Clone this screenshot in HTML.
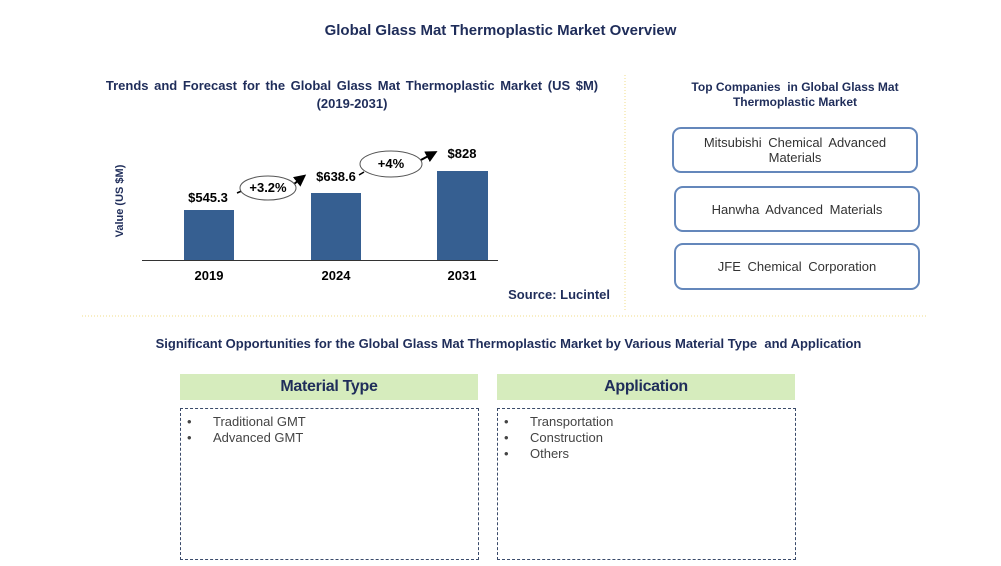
<!DOCTYPE html>
<html><head><meta charset="utf-8"><style>
body{margin:0;width:1001px;height:566px;background:#fff;position:relative;overflow:hidden;font-family:"Liberation Sans",Arial,sans-serif}
div{position:absolute}
.t{color:#1f2d5a;font-weight:bold;text-align:center}
.bar{background:#365f91}
.lbl{font-size:13px;font-weight:bold;color:#000;text-align:center;width:80px}
.cb{border:2.5px solid #6487bb;border-radius:9px;box-sizing:border-box;display:flex;align-items:center;justify-content:center;text-align:center;font-size:13px;color:#333;line-height:15px;word-spacing:3px}
.gh{background:#d6ecbd;height:26px;line-height:26px;text-align:center;font-size:16px;font-weight:bold;color:#1f2d5a;letter-spacing:-0.3px}
.bx{border:1px dashed #3a4a6a;box-sizing:border-box;font-size:13px;color:#444;padding:5px 0 0 6px;line-height:16px}
.bx p{margin:0}.bx span{display:inline-block;width:26px}
</style></head><body>
<div class="t" style="left:0;width:1001px;top:22px;font-size:15px">Global Glass Mat Thermoplastic Market Overview</div>
<div class="t" style="left:82px;width:540px;top:77px;font-size:13px;line-height:18px;word-spacing:2px">Trends and Forecast for the Global Glass Mat Thermoplastic Market (US $M)<br>(2019-2031)</div>
<div class="t" style="left:80px;top:195px;width:80px;font-size:11px;transform:rotate(-90deg);transform-origin:center;white-space:nowrap">Value (US $M)</div>
<div style="left:142px;top:260px;width:356px;height:1px;background:#333"></div>
<div class="bar" style="left:184px;top:210px;width:50px;height:50px"></div>
<div class="bar" style="left:311px;top:193px;width:50px;height:67px"></div>
<div class="bar" style="left:437px;top:171px;width:51px;height:89px"></div>
<div class="lbl" style="left:168px;top:190px">$545.3</div>
<div class="lbl" style="left:296px;top:169px">$638.6</div>
<div class="lbl" style="left:422px;top:146px">$828</div>
<div class="lbl" style="left:169px;top:268px">2019</div>
<div class="lbl" style="left:296px;top:268px">2024</div>
<div class="lbl" style="left:422px;top:268px">2031</div>
<svg style="position:absolute;left:0;top:0" width="1001" height="566">
<defs><marker id="a" markerWidth="6" markerHeight="6" refX="4" refY="3" orient="auto"><path d="M0,0L6,3L0,6z" fill="#000"/></marker></defs>
<path d="M237,193 L244,190" stroke="#000" stroke-width="1.5"/>
<path d="M294,184 L303,177" stroke="#000" stroke-width="2" marker-end="url(#a)"/>
<ellipse cx="268" cy="188" rx="28" ry="12" fill="#fff" stroke="#555"/>
<path d="M359,175 L364,172" stroke="#000" stroke-width="1.5"/>
<path d="M419,161 L434,153" stroke="#000" stroke-width="2" marker-end="url(#a)"/>
<ellipse cx="391" cy="164" rx="31" ry="13" fill="#fff" stroke="#555"/>
<line x1="625" y1="75" x2="625" y2="312" stroke="#f0dc8a" stroke-dasharray="1,2"/>
<line x1="82" y1="316" x2="926" y2="316" stroke="#f0dc8a" stroke-dasharray="1,2"/>
</svg>
<div class="t" style="left:238px;top:180px;width:60px;font-size:13px;color:#000">+3.2%</div>
<div class="t" style="left:361px;top:156px;width:60px;font-size:13px;color:#000">+4%</div>
<div class="t" style="left:470px;top:287px;width:140px;text-align:right;font-size:13px">Source: Lucintel</div>
<div class="t" style="left:670px;top:80px;width:250px;font-size:12px;line-height:15px">Top Companies &nbsp;in Global Glass Mat<br>Thermoplastic Market</div>
<div class="cb" style="left:672px;top:127px;width:246px;height:46px">Mitsubishi Chemical Advanced<br>Materials</div>
<div class="cb" style="left:674px;top:186px;width:246px;height:46px">Hanwha Advanced Materials</div>
<div class="cb" style="left:674px;top:243px;width:246px;height:47px">JFE Chemical Corporation</div>
<div class="t" style="left:0;width:1017px;top:336px;font-size:13px">Significant Opportunities for the Global Glass Mat Thermoplastic Market by Various Material Type &nbsp;and Application</div>
<div class="gh" style="left:180px;top:374px;width:298px">Material Type</div>
<div class="gh" style="left:497px;top:374px;width:298px">Application</div>
<div class="bx" style="left:180px;top:408px;width:299px;height:152px"><p><span>•</span>Traditional GMT</p><p><span>•</span>Advanced GMT</p></div>
<div class="bx" style="left:497px;top:408px;width:299px;height:152px"><p><span>•</span>Transportation</p><p><span>•</span>Construction</p><p><span>•</span>Others</p></div>
</body></html>
